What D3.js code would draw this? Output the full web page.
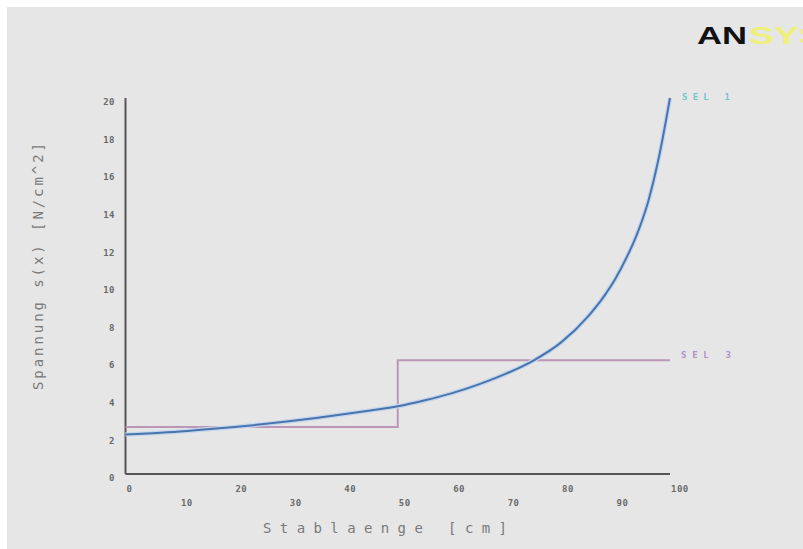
<!DOCTYPE html>
<html>
<head>
<meta charset="utf-8">
<script src="https://cdn.jsdelivr.net/npm/d3@7"></script>
<style>
  html, body { margin: 0; padding: 0; background: #ffffff; }
  svg { display: block; }
</style>
</head>
<body>
<svg id="chart" width="803" height="549"></svg>
<script>
// ---- data ----
const xTicks = [0, 10, 20, 30, 40, 50, 60, 70, 80, 90, 100];
const yTicks = [0, 2, 4, 6, 8, 10, 12, 14, 16, 18, 20];
const sel1X = [0, 5, 10, 15, 20, 25, 30, 35, 40, 45, 50, 55, 60, 65, 70, 75, 80, 85, 88, 90, 92, 94, 96, 98, 100];
const sel1Y = [2.1, 2.17, 2.26, 2.38, 2.5, 2.64, 2.8, 2.98, 3.18, 3.38, 3.6, 3.92, 4.3, 4.78, 5.35, 6.05, 7.0, 8.4, 9.5, 10.4, 11.5, 12.8, 14.5, 16.9, 20];
const sel3X = [0, 50, 100];
const sel3Y = [2.5, 6.05, 6.05];
const seriesNames = ["SEL 1", "SEL 3"];
const xTitle = "Stablaenge [cm]";
const yTitle = "Spannung s(x) [N/cm^2]";

// ---- layout ----
const svg = d3.select("#chart");
const W = 803, H = 549;
svg.append("rect").attr("x", 0).attr("y", 0).attr("width", W).attr("height", H).attr("fill", "#ffffff");
svg.append("rect").attr("x", 7).attr("y", 7).attr("width", W - 7).attr("height", H - 7).attr("fill", "#e6e6e6");

const x = d3.scaleLinear().domain([0, 100]).range([125.5, 670]);
const y = d3.scaleLinear().domain([0, 20]).range([474, 98]);

// logo
svg.append("text").attr("x", 697).attr("y", 44)
  .attr("font-family", "Liberation Sans, Arial, sans-serif").attr("font-weight", "bold")
  .attr("font-size", 24).attr("fill", "#111")
  .attr("textLength", 50).attr("lengthAdjust", "spacingAndGlyphs").text("AN");
svg.append("text").attr("x", 749).attr("y", 44)
  .attr("font-family", "Liberation Sans, Arial, sans-serif").attr("font-weight", "bold")
  .attr("font-size", 24).attr("fill", "#eef07a")
  .attr("textLength", 75).attr("lengthAdjust", "spacingAndGlyphs").text("SYS");

// axes lines (no tick marks)
const axisColor = "#555";
svg.append("line").attr("x1", x(0)).attr("x2", x(0)).attr("y1", y(20)).attr("y2", y(0))
  .attr("stroke", axisColor).attr("stroke-width", 2);
svg.append("line").attr("x1", x(0)).attr("x2", x(100)).attr("y1", y(0)).attr("y2", y(0))
  .attr("stroke", axisColor).attr("stroke-width", 2);

// y tick labels
svg.append("g").selectAll("text").data(yTicks).join("text")
  .attr("x", 115).attr("y", d => y(d) + 4).attr("dy", "0.35em")
  .attr("text-anchor", "end")
  .attr("font-family", "DejaVu Sans Mono, monospace").attr("font-weight", "bold")
  .attr("font-size", 9).attr("letter-spacing", 0.5).attr("fill", "#6a6a6a")
  .text(d => d);

// x tick labels (alternating rows)
svg.append("g").selectAll("text").data(xTicks).join("text")
  .attr("x", d => x(d) + 1)
  .attr("y", (d, i) => (i % 2 === 0 ? 489 : 503)).attr("dy", "0.35em")
  .attr("text-anchor", "start")
  .attr("font-family", "DejaVu Sans Mono, monospace").attr("font-weight", "bold")
  .attr("font-size", 9).attr("letter-spacing", 0.5).attr("fill", "#6a6a6a")
  .text(d => d);

// titles
svg.append("text").attr("x", 263).attr("y", 528).attr("dy", "0.35em")
  .attr("font-family", "DejaVu Sans Mono, monospace").attr("font-size", 14)
  .attr("fill", "#7a7a7a").attr("textLength", 244).attr("lengthAdjust", "spacing")
  .text(xTitle);
svg.append("text").attr("transform", "translate(38,390) rotate(-90)").attr("dy", "0.35em")
  .attr("font-family", "DejaVu Sans Mono, monospace").attr("font-size", 14)
  .attr("fill", "#7a7a7a").attr("textLength", 247).attr("lengthAdjust", "spacing")
  .text(yTitle);

// step series (SEL 3)
const sel3 = sel3X.map((d, i) => [d, sel3Y[i]]);
const stepLine = d3.line().x(d => x(d[0])).y(d => y(d[1])).curve(d3.curveStepAfter);
svg.append("path").datum(sel3).attr("d", stepLine).attr("fill", "none")
  .attr("stroke", "#bc96b6").attr("stroke-width", 2);

// curve series (SEL 1)
const sel1 = sel1X.map((d, i) => [d, sel1Y[i]]);
const curveLine = d3.line().x(d => x(d[0])).y(d => y(d[1])).curve(d3.curveMonotoneX);
svg.append("path").datum(sel1).attr("d", curveLine).attr("fill", "none")
  .attr("stroke", "#c4d6ee").attr("stroke-width", 4.5);
svg.append("path").datum(sel1).attr("d", curveLine).attr("fill", "none")
  .attr("stroke", "#4a74ac").attr("stroke-width", 2);

// legend labels at line ends
svg.append("text").attr("x", 682).attr("y", 97).attr("dy", "0.35em")
  .attr("font-family", "DejaVu Sans Mono, monospace").attr("font-weight", "bold")
  .attr("font-size", 9).attr("fill", "#70c8c8").attr("textLength", 48).attr("lengthAdjust", "spacing")
  .text(seriesNames[0]);
svg.append("text").attr("x", 681).attr("y", 355).attr("dy", "0.35em")
  .attr("font-family", "DejaVu Sans Mono, monospace").attr("font-weight", "bold")
  .attr("font-size", 9).attr("fill", "#b090c8").attr("textLength", 50).attr("lengthAdjust", "spacing")
  .text(seriesNames[1]);
</script>
</body>
</html>
